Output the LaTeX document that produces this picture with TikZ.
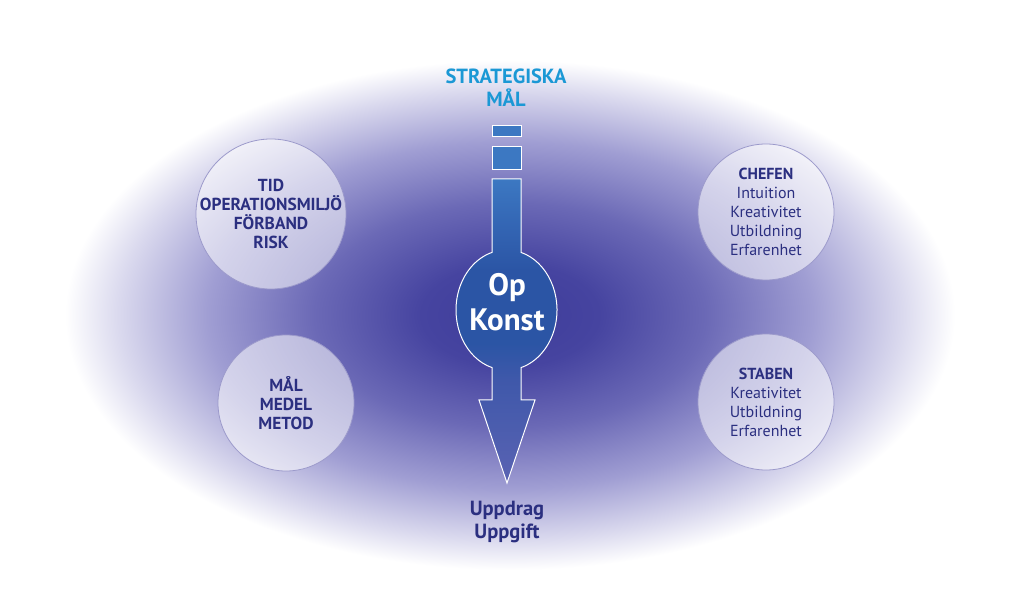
\documentclass[tikz,border=0pt]{standalone}
\usepackage{fontspec}
\setmainfont{PT Sans}
\usepackage{tikz}
\usetikzlibrary{positioning}
\usepackage{xcolor}

\definecolor{glowa}{HTML}{3E3C9A}
\definecolor{glowb}{HTML}{4644A0}
\definecolor{glowc}{HTML}{6B69B6}
\definecolor{glowd}{HTML}{A09ED3}
\definecolor{glowe}{HTML}{DAD9EE}
\definecolor{navy}{HTML}{2B2F80}
\definecolor{skyblue}{HTML}{1B98D5}
\definecolor{ringc}{HTML}{9C9ACB}
\definecolor{bluetop}{HTML}{3C78C2}
\definecolor{bluejoin}{HTML}{3467B5}
\definecolor{bluemid}{HTML}{2B55A5}
\definecolor{bluelow}{HTML}{3F58AA}
\definecolor{bluebot}{HTML}{5A63B3}

\pgfdeclareradialshading{opglow}{\pgfpoint{0bp}{0bp}}{color(0bp)=(glowa); color(5bp)=(glowb); color(11bp)=(glowc); color(17bp)=(glowd); color(22bp)=(glowe); color(25bp)=(white); color(50bp)=(white)}
\pgfdeclareverticalshading{opfill}{100bp}{color(0bp)=(bluebot); color(25bp)=(bluebot); color(42bp)=(bluelow); color(48bp)=(bluemid); color(60bp)=(bluemid); color(68bp)=(bluejoin); color(75bp)=(bluetop); color(100bp)=(bluetop)}

\tikzset{
  ring/.style={circle, draw=ringc, line width=0.8pt, fill=white, fill opacity=0.55, inner sep=0pt},
  factor/.style={text=navy, align=center, font=\fontsize{16}{19}\selectfont},
  heading/.style={align=center, font=\bfseries\fontsize{20.5}{23}\selectfont}
}

\begin{document}
\begin{tikzpicture}[x=1pt,y=-1pt]
		\useasboundingbox[fill=white] (0,0) rectangle (1023,601);
		% BACKGROUND GLOW
		\shade[shading=opglow] (510,315) ellipse [x radius=445, y radius=255];
		% ARROW
		\filldraw [bluetop, draw=white, line width=1pt] (492,126) rectangle (521,137);
		\filldraw [bluetop, draw=white, line width=1pt] (492,147) rectangle (521,170);
		\shadedraw [shading=opfill, draw=white, line width=1pt]
			(492,179) -- (521,179) -- (521,252.4)
			arc [start angle=-73.74, end angle=73.74, x radius=50, y radius=60]
			-- (521,400) -- (535,400) -- (507,483) -- (479,400) -- (492,400) -- (492,367.6)
			arc [start angle=106.26, end angle=253.74, x radius=50, y radius=60]
			-- cycle;
		\node (opkonst) [align=center, text=white, font=\bfseries\fontsize{31}{35}\selectfont] at (507,302) {Op\\Konst};
		% TOP AND BOTTOM TEXT
		\node (strategi) [heading, text=skyblue] at (506,88) {STRATEGISKA\\MÅL};
		\node (uppdrag) [heading, text=navy] at (507,522) {Uppdrag\\Uppgift};
		% CIRCLES
		\node (tid) [ring, minimum size=150pt] at (271,214) {};
		\node (mal) [ring, minimum size=136pt] at (286,403) {};
		\node (chefen) [ring, minimum size=136pt] at (766,212) {};
		\node (staben) [ring, minimum size=136pt] at (766,402) {};
		\node (tidtext) [factor, font=\bfseries\fontsize{17.4}{19}\selectfont] at (tid) {TID\\OPERATIONSMILJÖ\\FÖRBAND\\RISK};
		\node (maltext) [factor, font=\bfseries\fontsize{17.4}{19}\selectfont] at (mal) {MÅL\\MEDEL\\METOD};
		\node (cheftext) [factor] at (chefen) {\textbf{CHEFEN}\\Intuition\\Kreativitet\\Utbildning\\Erfarenhet};
		\node (stabtext) [factor] at (staben) {\textbf{STABEN}\\Kreativitet\\Utbildning\\Erfarenhet};
\end{tikzpicture}
\end{document}
